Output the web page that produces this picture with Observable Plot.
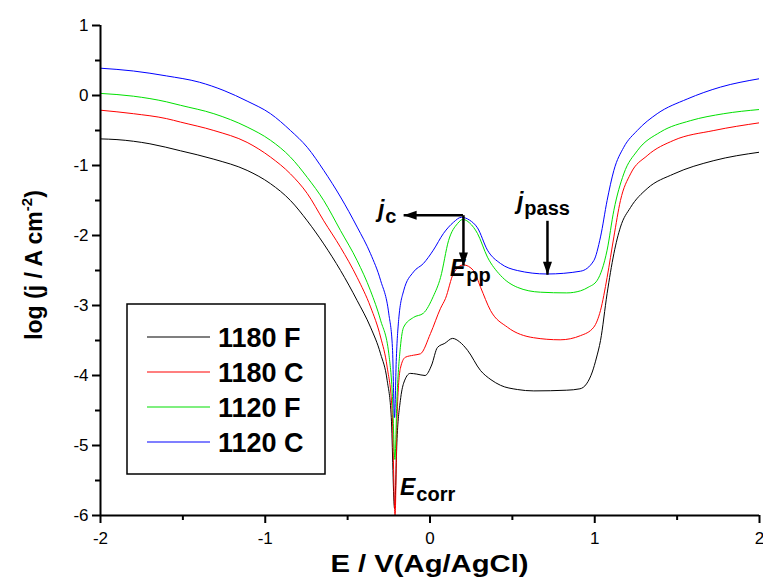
<!DOCTYPE html>
<html><head><meta charset="utf-8">
<script src="https://cdn.jsdelivr.net/npm/d3@7"></script>
<script src="https://cdn.jsdelivr.net/npm/@observablehq/plot@0.6"></script>
<style>body{margin:0;background:#fff}</style>
</head><body><div id="chart"></div>
<script>
// ---- data (E vs log j) ----
const series = ["1180 F", "1180 C", "1120 F", "1120 C"];
const colors = ["#000000", "#ff0000", "#00e000", "#0000ff"];

const f1180_x = [-2.00,-1.90,-1.70,-1.514,-1.312,-1.11,-0.968,-0.847,-0.745,-0.645,-0.543,-0.442,-0.361,-0.30,-0.26,-0.235,-0.215,-0.20,-0.18,-0.16,-0.12,-0.08,-0.03,0.01,0.045,0.09,0.137,0.18,0.228,0.307,0.37,0.428,0.53,0.63,0.83,0.91,0.95,0.985,1.01,1.035,1.075,1.116,1.156,1.217,1.318,1.48,1.723,2.00];
const f1180_y = [-0.62,-0.63,-0.69,-0.79,-0.91,-1.07,-1.26,-1.50,-1.79,-2.12,-2.50,-2.93,-3.31,-3.69,-4.07,-4.60,-5.90,-4.90,-4.36,-4.11,-3.97,-3.98,-4.00,-3.85,-3.60,-3.54,-3.47,-3.52,-3.64,-3.93,-4.06,-4.14,-4.20,-4.22,-4.21,-4.19,-4.12,-3.95,-3.75,-3.50,-2.83,-2.26,-1.88,-1.60,-1.33,-1.12,-0.93,-0.81];

const c1180_x = [-2.00,-1.80,-1.60,-1.514,-1.312,-1.11,-0.968,-0.847,-0.745,-0.645,-0.543,-0.442,-0.361,-0.30,-0.26,-0.23,-0.212,-0.20,-0.18,-0.15,-0.10,-0.058,0.003,0.064,0.094,0.143,0.203,0.264,0.307,0.367,0.47,0.628,0.79,0.914,0.994,1.035,1.075,1.116,1.156,1.217,1.318,1.48,1.723,2.00];
const c1180_y = [-0.21,-0.26,-0.33,-0.38,-0.50,-0.67,-0.88,-1.12,-1.40,-1.79,-2.17,-2.60,-3.02,-3.45,-3.88,-4.50,-6.00,-4.60,-3.90,-3.74,-3.71,-3.69,-3.40,-3.04,-2.90,-2.54,-2.42,-2.50,-2.74,-3.07,-3.31,-3.46,-3.49,-3.43,-3.31,-3.07,-2.60,-2.02,-1.50,-1.12,-0.86,-0.64,-0.50,-0.39];

const f1120_x = [-2.00,-1.80,-1.60,-1.514,-1.312,-1.11,-0.968,-0.847,-0.745,-0.645,-0.543,-0.442,-0.361,-0.30,-0.25,-0.228,-0.213,-0.20,-0.18,-0.16,-0.10,-0.04,0.02,0.064,0.113,0.167,0.20,0.24,0.288,0.349,0.428,0.53,0.67,0.83,0.914,0.96,1.015,1.075,1.116,1.176,1.258,1.40,1.58,1.783,2.00];
const f1120_y = [0.03,-0.01,-0.09,-0.14,-0.26,-0.45,-0.64,-0.88,-1.17,-1.50,-1.93,-2.36,-2.79,-3.21,-3.69,-4.30,-5.20,-4.30,-3.60,-3.31,-3.17,-3.11,-2.87,-2.60,-2.07,-1.83,-1.77,-1.82,-1.97,-2.31,-2.57,-2.74,-2.81,-2.82,-2.79,-2.74,-2.64,-2.21,-1.64,-1.12,-0.79,-0.52,-0.36,-0.26,-0.20];

const c1120_x = [-2.00,-1.80,-1.60,-1.40,-1.25,-1.11,-0.968,-0.847,-0.745,-0.645,-0.543,-0.442,-0.361,-0.30,-0.25,-0.228,-0.215,-0.205,-0.19,-0.16,-0.10,-0.04,0.02,0.082,0.143,0.19,0.24,0.288,0.349,0.428,0.53,0.71,0.914,0.994,1.035,1.075,1.116,1.176,1.258,1.379,1.561,1.763,2.00];
const c1120_y = [0.39,0.35,0.28,0.19,0.07,-0.08,-0.26,-0.50,-0.74,-1.07,-1.45,-1.88,-2.26,-2.64,-3.12,-3.60,-4.60,-3.80,-3.20,-2.79,-2.52,-2.40,-2.21,-1.97,-1.81,-1.74,-1.78,-1.89,-2.21,-2.40,-2.50,-2.55,-2.51,-2.36,-2.02,-1.50,-1.07,-0.74,-0.50,-0.26,-0.05,0.12,0.24];

const xMajor = [-2, -1, 0, 1, 2];
const xMinor = [-1.5, -0.5, 0.5, 1.5];
const yMajor = [1, 0, -1, -2, -3, -4, -5, -6];
const yMinor = [0.5, -0.5, -1.5, -2.5, -3.5, -4.5, -5.5];

// annotation arrows (data units)
const arrowX1 = [0.20, 0.203, 0.713];
const arrowY1 = [-1.71, -1.71, -1.79];
const arrowX2 = [-0.16, 0.203, 0.713];
const arrowY2 = [-1.71, -2.43, -2.56];
const arrowRot = [90, 0, 0];

// annotation labels
const labMain = ["j", "j", "E", "E"];
const labSub = ["c", "pass", "pp", "corr"];
const labX = [-0.313, 0.531, 0.124, -0.179];
const labY = [-1.74, -1.63, -2.59, -5.71];

// ---- build tables ----
const xs = [f1180_x, c1180_x, f1120_x, c1120_x];
const ys = [f1180_y, c1180_y, f1120_y, c1120_y];
const rows = [];
series.forEach((s, i) => xs[i].forEach((x, j) => rows.push({s, x, y: ys[i][j]})));
const arrows = arrowX1.map((d, i) => ({x1: d, y1: arrowY1[i], x2: arrowX2[i], y2: arrowY2[i], r: arrowRot[i]}));

const headSymbol = {draw(ctx) { ctx.moveTo(0, 0); ctx.lineTo(-4.5, -13); ctx.lineTo(4.5, -13); ctx.closePath(); }};
const fmt = d => String(d);

const plot = Plot.plot({
  width: 763, height: 582,
  marginLeft: 100, marginRight: 4, marginTop: 25, marginBottom: 67,
  style: {fontFamily: "'Liberation Sans', Arial, sans-serif", fontSize: "17px", color: "#000", background: "#fff", overflow: "visible"},
  x: {domain: [-2, 2]},
  y: {domain: [-6, 1]},
  color: {domain: series, range: colors},
  marks: [
    Plot.axisX(xMajor, {tickSize: 8, tickPadding: 8, tickFormat: fmt, label: null, strokeWidth: 2, fontSize: 17}),
    Plot.axisX(xMinor, {tickSize: 5, tickFormat: () => "", label: null, strokeWidth: 2}),
    Plot.axisY(yMajor, {tickSize: 8, tickPadding: 4, tickFormat: fmt, label: null, strokeWidth: 2, fontSize: 17}),
    Plot.axisY(yMinor, {tickSize: 5, tickFormat: () => "", label: null, strokeWidth: 2}),
    Plot.line(rows, {x: "x", y: "y", z: "s", stroke: "s", strokeWidth: 1, curve: "monotone-x", clip: true}),
    Plot.link(arrows, {x1: "x1", y1: "y1", x2: "x2", y2: "y2", stroke: "#000", strokeWidth: 2.5}),
    Plot.dot(arrows, {x: "x2", y: "y2", symbol: headSymbol, rotate: "r", fill: "#000", stroke: "none", r: 5}),
    Plot.ruleX([-2], {stroke: "#000", strokeWidth: 2}),
    Plot.ruleY([-6], {stroke: "#000", strokeWidth: 2})
  ]
});
document.getElementById("chart").append(plot);

// ---- titles, annotation labels, legend ----
const sx = plot.scale("x").apply, sy = plot.scale("y").apply;
const svg = d3.select(plot);
const ff = "'Liberation Sans', Arial, sans-serif";

// axis titles
svg.append("text").attr("x", 429.5).attr("y", 572).attr("text-anchor", "middle")
  .attr("font-family", ff).attr("font-weight", "bold").attr("font-size", 24)
  .attr("textLength", 198).attr("lengthAdjust", "spacingAndGlyphs").text("E / V(Ag/AgCl)");
const yt = svg.append("text").attr("transform", "translate(42,265) rotate(-90)").attr("text-anchor", "middle")
  .attr("font-family", ff).attr("font-weight", "bold").attr("font-size", 23);
yt.append("tspan").text("log (j / A cm");
yt.append("tspan").attr("font-size", 15).attr("dy", -10).text("-2");
yt.append("tspan").attr("dy", 10).text(")");

labMain.forEach((m, i) => {
  const t = svg.append("text").attr("x", sx(labX[i])).attr("y", sy(labY[i])).attr("text-anchor", "start")
    .attr("font-family", ff).attr("font-weight", "bold").attr("font-size", 23);
  t.append("tspan").attr("font-style", "italic").text(m);
  t.append("tspan").attr("font-size", 20).attr("dy", 6).attr("dx", 1).text(labSub[i]);
});

// legend
const lg = svg.append("g");
lg.append("rect").attr("x", 127).attr("y", 304).attr("width", 198).attr("height", 170)
  .attr("fill", "#fff").attr("stroke", "#000").attr("stroke-width", 1.5);
series.forEach((s, i) => {
  const yy = 337 + i * 35;
  lg.append("line").attr("x1", 147).attr("x2", 210).attr("y1", yy).attr("y2", yy)
    .attr("stroke", colors[i]).attr("stroke-width", 1.2);
  lg.append("text").attr("x", 218).attr("y", yy + 9.5).attr("text-anchor", "start").attr("font-family", ff)
    .attr("font-weight", "bold").attr("font-size", 27).text(s);
});
</script>
</body></html>
